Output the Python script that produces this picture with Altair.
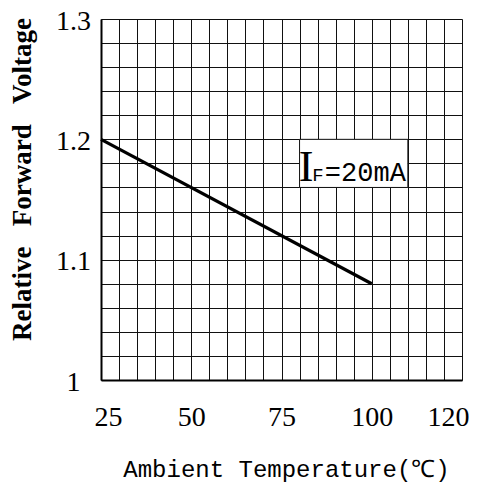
import altair as alt
import pandas as pd

# Data
temp = [25, 100]
rel_voltage = [1.20, 1.08]

x_tick_values = [25, 50, 75, 100, 125]
x_tick_labels = ["25", "50", "75", "100", "120"]
y_tick_values = [1.0, 1.1, 1.2, 1.3]
y_tick_labels = ["1", "1.1", "1.2", "1.3"]

x_grid = [25 + 5 * i for i in range(21)]
y_grid = [round(1.0 + 0.02 * i, 2) for i in range(16)]

box_x = [80]
box_x2 = [110]
box_y = [1.16]
box_y2 = [1.20]

ann_parts = ["I", "F", "=20mA"]
ann_x = [81.8, 85.1, 87.0]
ann_y = [1.1655, 1.1655, 1.1655]


def label_expr(values, labels):
    expr = "''"
    for v, l in reversed(list(zip(values, labels))):
        expr = f"abs(datum.value - {v}) < 0.0001 ? '{l}' : ({expr})"
    return expr


line_df = pd.DataFrame({"t": temp, "v": rel_voltage})
box_df = pd.DataFrame({"x": box_x, "x2": box_x2, "y": box_y, "y2": box_y2})
ann_df = pd.DataFrame({"part": ann_parts, "x": ann_x, "y": ann_y})

xscale = alt.Scale(domain=[25, 125], nice=False, zero=False)
yscale = alt.Scale(domain=[1.0, 1.3], nice=False, zero=False)

xaxis = alt.Axis(
    values=x_grid, tickCount=len(x_grid), grid=True, gridColor="#111", gridWidth=1,
    gridOpacity=1, ticks=False, tickSize=0, domainColor="black", domainWidth=2,
    labelExpr=label_expr(x_tick_values, x_tick_labels),
    labelFont="Liberation Serif", labelFontSize=28, labelColor="black",
    labelBaseline="alphabetic", labelPadding=45, labelFlush=False, labelOverlap=False,
    labelOffset={"condition": [{"test": "datum.value == 25", "value": 7},
                               {"test": "datum.value == 125", "value": -14}],
                 "value": 0},
    title="Ambient Temperature(\u2103)", titleFont="Liberation Mono", titleFontSize=24,
    titleFontWeight="normal", titleColor="black", titleBaseline="alphabetic",
    titleX=185, titleY=96, titleAnchor="middle", titleAlign="center",
)
yaxis = alt.Axis(
    values=y_grid, tickCount=len(y_grid), grid=True, gridColor="#111", gridWidth=1,
    gridOpacity=1, ticks=False, tickSize=0, domainColor="black", domainWidth=2,
    labelExpr=label_expr(y_tick_values, y_tick_labels),
    labelFont="Liberation Serif", labelFontSize=28, labelColor="black",
    labelAlign="center", labelBaseline="middle", labelPadding=28, labelOffset=2,
    labelFlush=False, labelOverlap=False,
    title="Relative\u00a0\u00a0\u00a0Forward\u00a0\u00a0\u00a0Voltage",
    titleFont="Liberation Serif", titleFontSize=27, titleFontWeight="bold",
    titleColor="black", titleBaseline="alphabetic", titleAngle=270,
    titleX=-71, titleY=160, titleAlign="center",
)

line = alt.Chart(line_df).mark_line(color="black", strokeWidth=3.2).encode(
    x=alt.X("t:Q", scale=xscale, axis=xaxis),
    y=alt.Y("v:Q", scale=yscale, axis=yaxis),
)

box = alt.Chart(box_df).mark_rect(fill="white", stroke="#111", strokeWidth=1).encode(
    x=alt.X("x:Q", scale=xscale), x2="x2:Q",
    y=alt.Y("y:Q", scale=yscale), y2="y2:Q",
)

ann_I = alt.Chart(ann_df).transform_filter("datum.part == 'I'").mark_text(
    font="Liberation Serif", fontSize=44, align="center", baseline="alphabetic",
    color="black",
).encode(x=alt.X("x:Q", scale=xscale), y=alt.Y("y:Q", scale=yscale), text="part:N")

ann_F = alt.Chart(ann_df).transform_filter("datum.part == 'F'").mark_text(
    font="Liberation Mono", fontSize=19, align="center", baseline="alphabetic",
    color="black",
).encode(x=alt.X("x:Q", scale=xscale), y=alt.Y("y:Q", scale=yscale), text="part:N")

ann_rest = alt.Chart(ann_df).transform_filter("datum.part == '=20mA'").mark_text(
    font="Liberation Mono", fontSize=27, align="left", baseline="alphabetic",
    color="black",
).encode(x=alt.X("x:Q", scale=xscale), y=alt.Y("y:Q", scale=yscale), text="part:N")

chart = alt.layer(box, line, ann_I, ann_F, ann_rest).properties(
    width=361, height=361,
    autosize=alt.AutoSizeParams(type="none"),
    padding={"left": 93, "top": 11, "right": 7, "bottom": 105},
).configure_view(stroke="black", strokeWidth=1.2).configure(background="white")

chart.save("out.html", embed_options={"renderer": "svg", "actions": False})
